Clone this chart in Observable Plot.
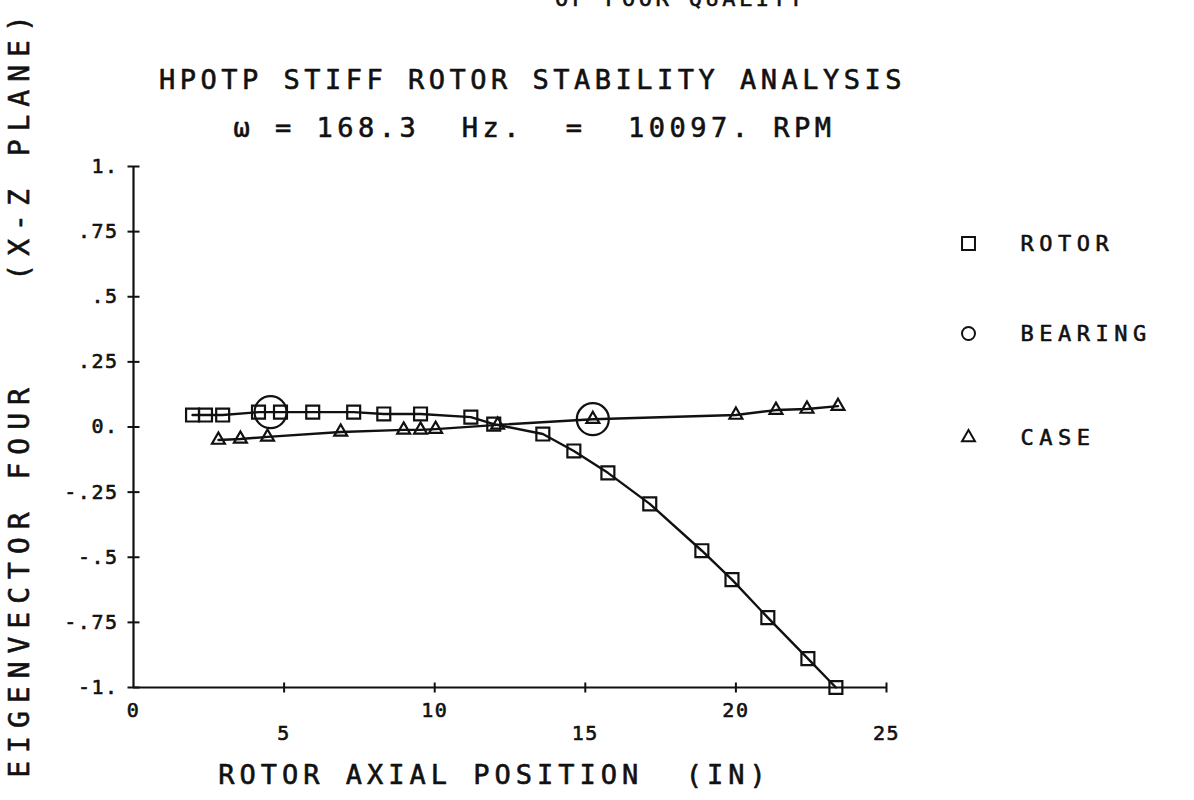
<!DOCTYPE html>
<html>
<head>
<meta charset="utf-8">
<script src="https://cdn.jsdelivr.net/npm/d3@7"></script>
<script src="https://cdn.jsdelivr.net/npm/@observablehq/plot@0.6"></script>
<style>
  html, body { margin: 0; padding: 0; background: #fff; }
  #chart { width: 1194px; height: 800px; overflow: hidden; }
  svg text { font-family: "DejaVu Sans Mono", "Liberation Mono", monospace; }
</style>
</head>
<body>
<div id="chart"></div>
<script>
// ---- data ----
const chartTitle = "HPOTP STIFF ROTOR STABILITY ANALYSIS";
const chartSubtitle = "ω = 168.3  Hz.  =  10097. RPM";
const topNote = "OF POOR QUALITY";
const xAxisTitle = "ROTOR AXIAL POSITION  (IN)";
const yAxisTitle = "EIGENVECTOR FOUR    (X-Z PLANE)";

const xTicks = [0, 5, 10, 15, 20, 25];
const xTickLabels = ["0", "5", "10", "15", "20", "25"];
const yTicks = [1, 0.75, 0.5, 0.25, 0, -0.25, -0.5, -0.75, -1];
const yTickLabels = ["1.", ".75", ".5", ".25", "0.", "-.25", "-.5", "-.75", "-1."];

const rotorX = [1.96, 2.39, 2.96, 4.15, 4.88, 5.95, 7.31, 8.31, 9.53, 11.2, 11.96, 13.59, 14.62, 15.75, 17.14, 18.87, 19.87, 21.06, 22.39, 23.32];
const rotorY = [0.046, 0.046, 0.046, 0.057, 0.057, 0.057, 0.057, 0.05, 0.05, 0.038, 0.011, -0.027, -0.092, -0.176, -0.295, -0.475, -0.586, -0.732, -0.889, -1.0];

const bearingX = [4.55, 15.25];
const bearingY = [0.057, 0.03];

const caseX = [2.82, 3.55, 4.45, 6.88, 8.97, 9.53, 10.03, 12.09, 15.25, 20.0, 21.33, 22.36, 23.39];
const caseY = [-0.05, -0.046, -0.038, -0.019, -0.011, -0.011, -0.008, 0.008, 0.03, 0.046, 0.065, 0.069, 0.08];

const legendLabels = ["ROTOR", "BEARING", "CASE"];
const legendSymbols = ["square", "circle", "triangle"];

// ---- tables ----
const rotor = rotorX.map((x, i) => ({x, y: rotorY[i]}));
const bearing = bearingX.map((x, i) => ({x, y: bearingY[i]}));
const casing = caseX.map((x, i) => ({x, y: caseY[i]}));

const ink = "#111";
const hTick = {draw(c) { c.moveTo(-6, 0); c.lineTo(6, 0); }};
const vTick = {draw(c) { c.moveTo(0, -5); c.lineTo(0, 5); }};

const mL = 133, mT = 166, W = 1194, H = 800, mR = W - 886, mB = H - 687;
const legendY = [243, 333, 437];
const legendR = [7.3, 6.5, 4.8];

const inkText = {fill: ink, stroke: ink, strokeWidth: 0.6};
const ftext = (d, o) => Plot.text([d], {frameAnchor: "top-left", text: v => v, lineAnchor: "middle", ...inkText, ...o});

const marks = [
  // axes
  Plot.ruleX([0], {y1: -1, y2: 1, stroke: ink, strokeWidth: 2.2}),
  Plot.ruleY([-1], {x1: 0, x2: 25, stroke: ink, strokeWidth: 2.2}),
  Plot.dot(yTicks, {x: 0, y: d => d, symbol: hTick, stroke: ink, strokeWidth: 2, r: 1}),
  Plot.dot(xTicks.slice(1), {x: d => d, y: -1, symbol: vTick, stroke: ink, strokeWidth: 2, r: 1}),
  Plot.text(yTicks, {x: 0, y: d => d, text: (d, i) => yTickLabels[i], textAnchor: "end", dx: -15, fontSize: 20, ...inkText}),
  Plot.text(xTicks.filter((d, i) => i % 2 === 0), {x: d => d, y: -1, text: d => xTickLabels[xTicks.indexOf(d)], dy: 23, fontSize: 20, ...inkText}),
  Plot.text(xTicks.filter((d, i) => i % 2 === 1), {x: d => d, y: -1, text: d => xTickLabels[xTicks.indexOf(d)], dy: 46, fontSize: 20, ...inkText}),
  // data
  Plot.line(rotor, {x: "x", y: "y", stroke: ink, strokeWidth: 2.4}),
  Plot.line(casing, {x: "x", y: "y", stroke: ink, strokeWidth: 2.4}),
  Plot.dot(rotor, {x: "x", y: "y", symbol: "square", r: 7.3, stroke: ink, strokeWidth: 2.2, fill: "none"}),
  Plot.dot(casing, {x: "x", y: "y", symbol: "triangle", r: 4.8, stroke: ink, strokeWidth: 2.2, fill: "none"}),
  Plot.dot(bearing, {x: "x", y: "y", symbol: "circle", r: 16, stroke: ink, strokeWidth: 2.2, fill: "none"}),
  // titles
  ftext(chartTitle, {dx: 532 - mL, dy: 80 - mT, textAnchor: "middle", fontSize: 27}),
  ftext(chartSubtitle, {dx: 534 - mL, dy: 128 - mT, textAnchor: "middle", fontSize: 27}),
  ftext(topNote, {dx: 680 - mL, dy: -2 - mT, textAnchor: "middle", fontSize: 22}),
  ftext(xAxisTitle, {dx: 494 - mL, dy: 775 - mT, textAnchor: "middle", fontSize: 27}),
  ftext(yAxisTitle, {dx: 20 - mL, dy: 392 - mT, textAnchor: "middle", rotate: -90, fontSize: 28})
];

// legend
legendLabels.forEach((lab, i) => {
  marks.push(Plot.dot([lab], {frameAnchor: "top-left", dx: 968 - mL, dy: legendY[i] - mT, symbol: legendSymbols[i], r: legendR[i], stroke: ink, strokeWidth: 2, fill: "none"}));
  marks.push(ftext(lab, {dx: 1020 - mL, dy: legendY[i] - mT, textAnchor: "start", fontSize: 22}));
});

const svg = Plot.plot({
  width: W, height: H,
  marginLeft: mL, marginRight: mR, marginTop: mT, marginBottom: mB,
  x: {domain: [0, 25], axis: null},
  y: {domain: [-1, 1], axis: null},
  style: {background: "#fff", color: ink, fontFamily: "DejaVu Sans Mono"},
  marks
});
document.getElementById("chart").appendChild(svg);

// letter spacing to imitate the plotter lettering
const spacing = new Map([
  [chartTitle, 4.5], [chartSubtitle, 4.5], [topNote, 3.5], [xAxisTitle, 5], [yAxisTitle, 8]
]);
legendLabels.forEach(l => spacing.set(l, 5.5));
svg.querySelectorAll("text").forEach(t => {
  const s = spacing.has(t.textContent) ? spacing.get(t.textContent) : 1.5;
  t.style.letterSpacing = s + "px";
});
</script>
</body>
</html>
